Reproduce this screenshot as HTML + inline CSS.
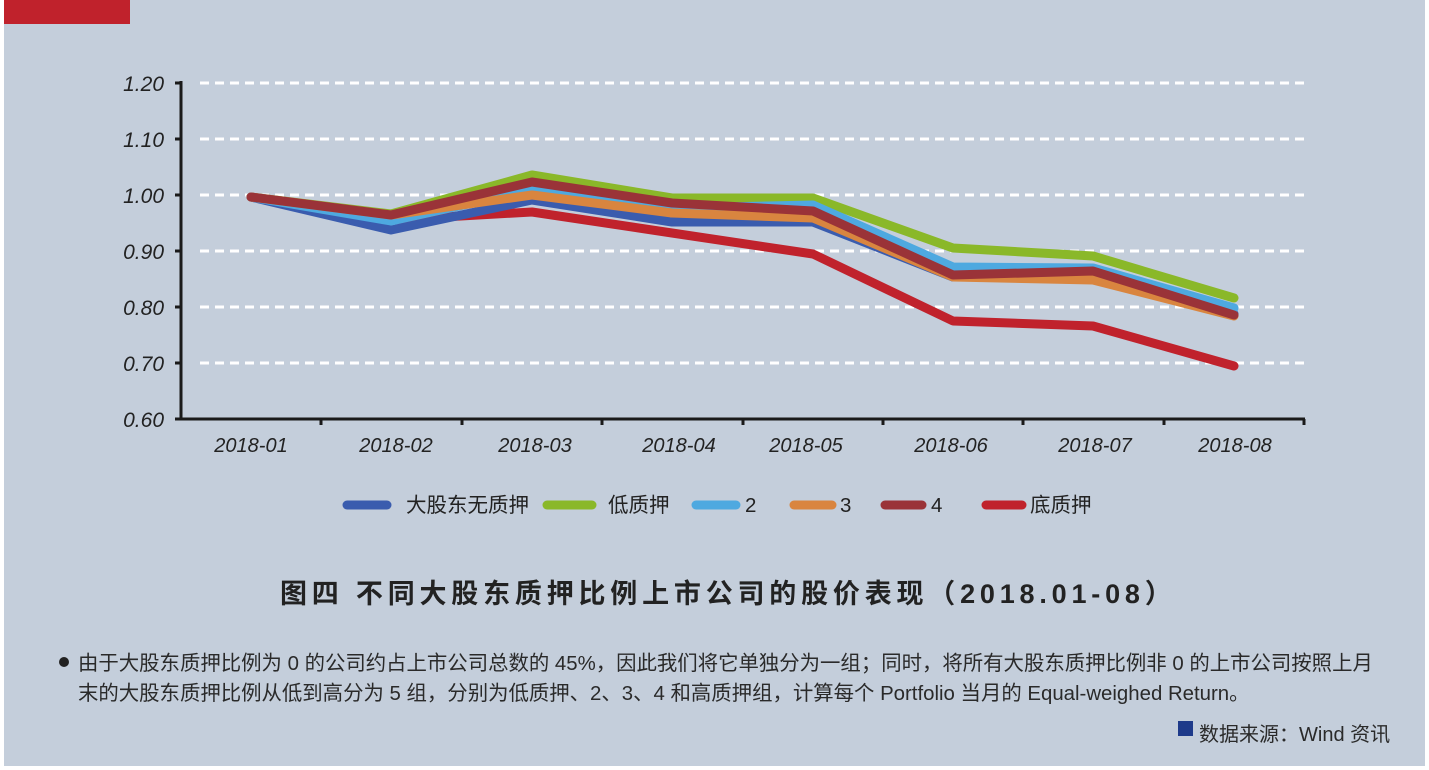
<!DOCTYPE html>
<html><head><meta charset="utf-8"><style>
body{margin:0;width:1429px;height:770px;background:#fff;overflow:hidden}
.bg{position:absolute;left:4px;top:0;width:1421px;height:766px;background:#c4cedb}
.t{position:absolute;font-family:"Liberation Sans","Noto Sans CJK SC",sans-serif;color:#222;white-space:nowrap}
</style></head><body>
<div class="bg"></div>
<div style="position:absolute;left:4px;top:0;width:126px;height:24px;background:#c0222c"></div>
<svg style="position:absolute;left:0;top:0" width="1429" height="770">
<g stroke="#fff" stroke-width="3" stroke-dasharray="9,6">
<line x1="200" y1="83" x2="1304" y2="83"/><line x1="200" y1="139" x2="1304" y2="139"/>
<line x1="200" y1="195" x2="1304" y2="195"/><line x1="200" y1="251" x2="1304" y2="251"/>
<line x1="200" y1="307" x2="1304" y2="307"/><line x1="200" y1="363" x2="1304" y2="363"/>
</g>
<g stroke="#1a1a1a" stroke-width="3">
<line x1="181" y1="81" x2="181" y2="420"/><line x1="180" y1="419" x2="1305" y2="419"/>
<line x1="175" y1="83" x2="181" y2="83"/><line x1="175" y1="139" x2="181" y2="139"/><line x1="175" y1="195" x2="181" y2="195"/><line x1="175" y1="251" x2="181" y2="251"/><line x1="175" y1="307" x2="181" y2="307"/><line x1="175" y1="363" x2="181" y2="363"/><line x1="175" y1="419" x2="181" y2="419"/>
<line x1="321" y1="419" x2="321" y2="425"/><line x1="462" y1="419" x2="462" y2="425"/><line x1="602" y1="419" x2="602" y2="425"/><line x1="743" y1="419" x2="743" y2="425"/><line x1="883" y1="419" x2="883" y2="425"/><line x1="1023" y1="419" x2="1023" y2="425"/><line x1="1164" y1="419" x2="1164" y2="425"/><line x1="1304" y1="419" x2="1304" y2="425"/>
</g>
<g fill="none" stroke-width="9" stroke-linejoin="round" stroke-linecap="round">
<polyline stroke="#c0222c" points="251,197 391,220 532,212 672,233 813,254 953,321 1093,326 1234,366"/>
<polyline stroke="#3a5cae" points="251,197 391,230 532,200 672,222 813,222 953,277 1093,275 1234,314"/>
<polyline stroke="#8ab829" points="251,197 391,214 532,175 672,198 813,198 953,248 1093,256 1234,298"/>
<polyline stroke="#4ea9e0" points="251,197 391,221 532,190 672,208 813,205 953,267 1093,268 1234,308"/>
<polyline stroke="#d9853f" points="251,197 391,215 532,195 672,213 813,218 953,277 1093,280 1234,316"/>
<polyline stroke="#9a3338" points="251,197 391,215 532,182 672,203 813,211 953,275 1093,271 1234,315"/>
</g>
<g stroke-width="9" stroke-linecap="round">
<line x1="347" y1="505" x2="387" y2="505" stroke="#3a5cae"/>
<line x1="547" y1="505" x2="592" y2="505" stroke="#8ab829"/>
<line x1="696" y1="505" x2="736" y2="505" stroke="#4ea9e0"/>
<line x1="794" y1="505" x2="832" y2="505" stroke="#d9853f"/>
<line x1="885" y1="505" x2="922" y2="505" stroke="#9a3338"/>
<line x1="986" y1="505" x2="1022" y2="505" stroke="#c0222c"/>
</g>
<g font-family="Liberation Sans" font-style="italic" font-size="21" fill="#222" text-anchor="end">
<text x="164" y="91">1.20</text><text x="164" y="147">1.10</text><text x="164" y="203">1.00</text><text x="164" y="259">0.90</text><text x="164" y="315">0.80</text><text x="164" y="371">0.70</text><text x="164" y="427">0.60</text>
</g>
<g font-family="Liberation Sans" font-style="italic" font-size="20" fill="#222" text-anchor="middle">
<text x="251" y="452">2018-01</text><text x="396" y="452">2018-02</text><text x="535" y="452">2018-03</text><text x="679" y="452">2018-04</text><text x="806" y="452">2018-05</text><text x="951" y="452">2018-06</text><text x="1095" y="452">2018-07</text><text x="1235" y="452">2018-08</text>
</g>
<g font-family="Liberation Sans,Noto Sans CJK SC,sans-serif" font-size="20.5" fill="#222">
<text x="406" y="512">大股东无质押</text><text x="608" y="512">低质押</text><text x="745" y="512">2</text><text x="840" y="512">3</text><text x="931" y="512">4</text><text x="1030" y="512">底质押</text>
</g>
<rect x="1178" y="721" width="15" height="15" fill="#1e3a8a"/>
<circle cx="64" cy="662" r="5" fill="#222"/>
</svg>
<div class="t" style="left:280px;top:572px;font-size:27px;font-weight:bold;letter-spacing:4.8px">图四 不同大股东质押比例上市公司的股价表现（2018.01-08）</div>
<div class="t" style="left:78px;top:649px;font-size:20.4px;line-height:30px;color:#2a2a2a">由于大股东质押比例为 0 的公司约占上市公司总数的 45%，因此我们将它单独分为一组；同时，将所有大股东质押比例非 0 的上市公司按照上月<br>末的大股东质押比例从低到高分为 5 组，分别为低质押、2、3、4 和高质押组，计算每个 Portfolio 当月的 Equal-weighed Return。</div>
<div class="t" style="left:1199px;top:718px;font-size:20px;color:#2a2a2a">数据来源：Wind 资讯</div>
</body></html>
